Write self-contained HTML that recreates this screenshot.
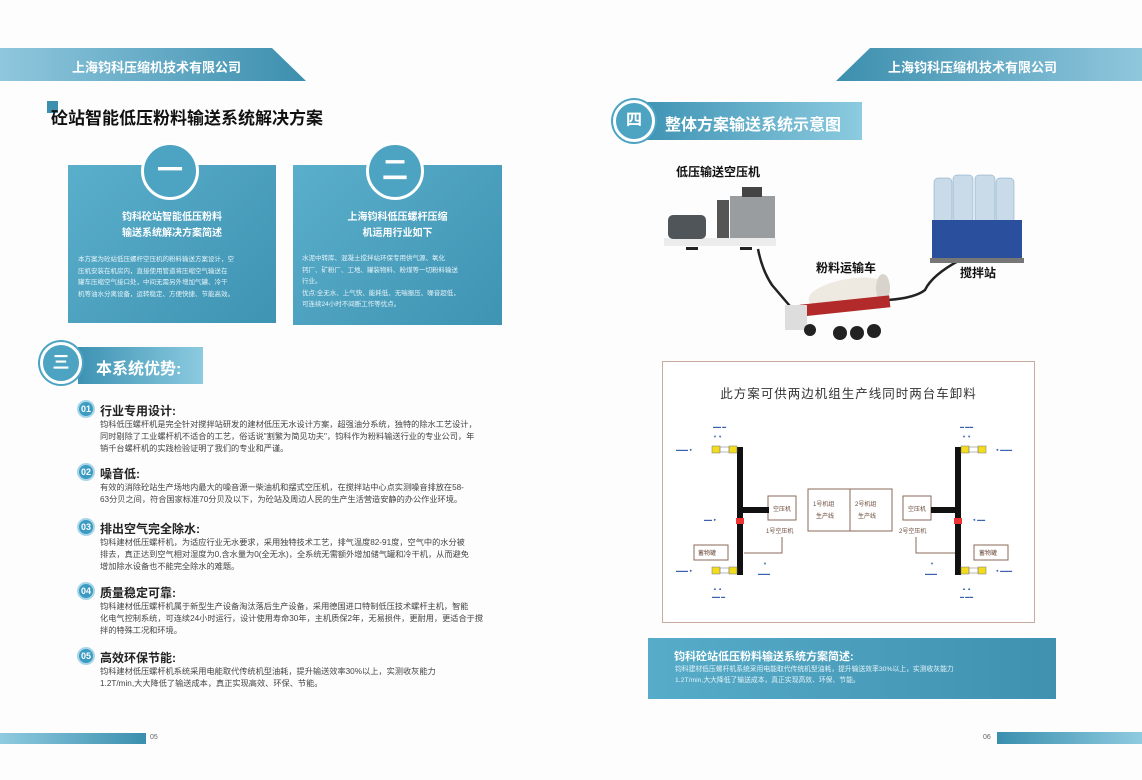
<!DOCTYPE html>
<html><head><meta charset="utf-8"><style>
*{margin:0;padding:0;box-sizing:border-box}
body{width:1142px;height:780px;background:#fdfdfd;position:relative;overflow:hidden;font-family:"Liberation Sans","Noto Sans CJK SC",sans-serif}
.a{position:absolute}
.bt{color:#444;font-size:8.2px;line-height:12px;white-space:nowrap}
.card{background:linear-gradient(135deg,#5aafcb,#3f93b3);color:#fff}
.circ{border-radius:50%;background:#4ca3c2;border:3px solid #fff;color:#fff;text-align:center;font-weight:bold}
.num{width:18px;height:18px;border-radius:50%;background:#3b9bc2;border:2px solid #a8d6e8;color:#fff;font-size:9px;text-align:center;line-height:14px;font-weight:bold}
.h{font-size:12px;font-weight:bold;color:#222}
</style></head><body>
<div class="a" style="left:0;top:48px;width:306px;height:33px;background:linear-gradient(90deg,#8fc7dd,#3c8fae);clip-path:polygon(0 0,272px 0,306px 33px,0 33px)"></div>
<div class="a" style="left:72px;top:57px;color:#fff;font-size:13px;font-weight:bold">上海钧科压缩机技术有限公司</div>
<div class="a" style="left:836px;top:48px;width:306px;height:33px;background:linear-gradient(90deg,#3c8fae,#8fc7dd);clip-path:polygon(34px 0,306px 0,306px 33px,0 33px)"></div>
<div class="a" style="left:888px;top:57px;color:#fff;font-size:13px;font-weight:bold">上海钧科压缩机技术有限公司</div>

<div class="a" style="left:47px;top:101px;width:11px;height:12px;background:#3d8fb0"></div>
<div class="a" style="left:51px;top:104px;font-size:17px;font-weight:bold;color:#111">砼站智能低压粉料输送系统解决方案</div>

<div class="a card" style="left:68px;top:165px;width:208px;height:158px"></div>
<div class="a circ" style="left:141px;top:142px;width:58px;height:58px;font-size:26px;line-height:50px">一</div>
<div class="a" style="left:68px;top:210px;width:208px;text-align:center;color:#fff;font-size:10px;font-weight:bold;line-height:16px">钧科砼站智能低压粉料<br>输送系统解决方案简述</div>
<div class="a bt" style="left:78px;top:254px;color:#e6f3f8;font-size:6.5px;line-height:11.5px">本方案为砼站低压螺杆空压机的粉料输送方案设计，空<br>压机安装在机房内，直接使用管道将压缩空气输送在<br>罐车压缩空气接口处，中间无需另外增加气罐、冷干<br>机等油水分离设备，运转稳定、方便快捷、节能高效。</div>

<div class="a card" style="left:293px;top:165px;width:209px;height:160px"></div>
<div class="a circ" style="left:366px;top:142px;width:58px;height:58px;font-size:26px;line-height:50px">二</div>
<div class="a" style="left:293px;top:210px;width:209px;text-align:center;color:#fff;font-size:10px;font-weight:bold;line-height:16px">上海钧科低压螺杆压缩<br>机运用行业如下</div>
<div class="a bt" style="left:302px;top:253px;color:#e6f3f8;font-size:6.5px;line-height:11.5px">水泥中转库、混凝土搅拌站环保专用供气源、氧化<br>钙厂、矿粉厂、工地、罐装物料、粉煤等一切粉料输送<br>行业。<br>优点:全无水、上气快、能耗低、无喘振压、噪音超低，<br>可连续24小时不间断工作等优点。</div>

<div class="a" style="left:78px;top:347px;width:125px;height:37px;background:linear-gradient(90deg,#3d92b3,#8ccbe0)"></div>
<div class="a circ" style="left:40px;top:342px;width:42px;height:42px;font-size:17px;line-height:35px;box-shadow:0 0 0 2px #4ca3c2">三</div>
<div class="a" style="left:96px;top:355px;color:#fff;font-size:16px;font-weight:bold">本系统优势:</div>

<div class="a num" style="left:77px;top:400px">01</div>
<div class="a h" style="left:100px;top:402px">行业专用设计:</div>
<div class="a bt" style="left:100px;top:419px">钧科低压螺杆机是完全针对搅拌站研发的建材低压无水设计方案，超强油分系统，独特的除水工艺设计，<br>同时剔除了工业螺杆机不适合的工艺，俗话说"割繁为简见功夫"，钧科作为粉料输送行业的专业公司，年<br>销千台螺杆机的实践检验证明了我们的专业和严谨。</div>
<div class="a num" style="left:77px;top:463px">02</div>
<div class="a h" style="left:100px;top:465px">噪音低:</div>
<div class="a bt" style="left:100px;top:482px">有效的消除砼站生产场地内最大的噪音源一柴油机和摆式空压机，在搅拌站中心点实测噪音排放在58-<br>63分贝之间，符合国家标准70分贝及以下，为砼站及周边人民的生产生活营造安静的办公作业环境。</div>
<div class="a num" style="left:77px;top:518px">03</div>
<div class="a h" style="left:100px;top:520px">排出空气完全除水:</div>
<div class="a bt" style="left:100px;top:537px">钧科建材低压螺杆机，为适应行业无水要求，采用独特技术工艺，排气温度82-91度，空气中的水分被<br>排去，真正达到空气相对湿度为0,含水量为0(全无水)，全系统无需额外增加储气罐和冷干机，从而避免<br>增加除水设备也不能完全除水的难题。</div>
<div class="a num" style="left:77px;top:582px">04</div>
<div class="a h" style="left:100px;top:584px">质量稳定可靠:</div>
<div class="a bt" style="left:100px;top:601px">钧科建材低压螺杆机属于新型生产设备淘汰落后生产设备，采用德国进口特制低压技术螺杆主机，智能<br>化电气控制系统，可连续24小时运行，设计使用寿命30年，主机质保2年，无易损件，更耐用，更适合于搅<br>拌的特殊工况和环境。</div>
<div class="a num" style="left:77px;top:647px">05</div>
<div class="a h" style="left:100px;top:649px">高效环保节能:</div>
<div class="a bt" style="left:100px;top:666px">钧科建材低压螺杆机系统采用电能取代传统机型油耗，提升输送效率30%以上，实测收灰能力<br>1.2T/min,大大降低了输送成本，真正实现高效、环保、节能。</div>

<div class="a" style="left:0;top:733px;width:146px;height:11px;background:linear-gradient(90deg,#8fcbe0,#3a8fae)"></div>
<div class="a" style="left:150px;top:734px;font-size:7px;color:#666">05</div>
<div class="a" style="left:997px;top:732px;width:145px;height:12px;background:linear-gradient(90deg,#3a8fae,#8fcbe0)"></div>
<div class="a" style="left:983px;top:734px;font-size:7px;color:#666">06</div>

<div class="a" style="left:638px;top:102px;width:224px;height:38px;background:linear-gradient(90deg,#3d92b3,#8ccbe0)"></div>
<div class="a circ" style="left:613px;top:100px;width:42px;height:42px;font-size:16px;line-height:35px;box-shadow:0 0 0 2px #4ca3c2">四</div>
<div class="a" style="left:665px;top:111px;color:#fff;font-size:16px;font-weight:bold">整体方案输送系统示意图</div>

<svg class="a" style="left:0;top:0" width="1142" height="780">
<path d="M758 249 Q762 270 772 285 L795 312" stroke="#222" stroke-width="2.5" fill="none"/>
<path d="M888 300 Q915 298 925 290 Q932 275 960 260" stroke="#222" stroke-width="2.5" fill="none"/>
<rect x="664" y="238" width="112" height="8" fill="#ececec"/>
<rect x="668" y="215" width="38" height="24" rx="5" fill="#4f5559"/>
<rect x="717" y="200" width="12" height="38" fill="#555"/>
<rect x="730" y="196" width="45" height="42" fill="#9a9da0"/>
<rect x="742" y="187" width="20" height="10" fill="#444"/>
<rect x="686" y="247" width="12" height="3" fill="#222"/><rect x="740" y="247" width="12" height="3" fill="#222"/>
<g fill="#c9dbe8" stroke="#7aa2c2" stroke-width="0.5">
<rect x="934" y="178" width="18" height="45" rx="4"/><rect x="953" y="175" width="20" height="48" rx="4"/><rect x="975" y="175" width="20" height="48" rx="4"/><rect x="996" y="178" width="18" height="45" rx="4"/></g>
<rect x="932" y="220" width="90" height="42" fill="#2a4f9c"/>
<rect x="930" y="258" width="94" height="5" fill="#777"/>
<ellipse cx="848" cy="293" rx="40" ry="14" fill="#eeeae2" transform="rotate(-10 848 293)"/>
<ellipse cx="883" cy="288" rx="7" ry="14" fill="#d8d4cc"/>
<rect x="800" y="300" width="90" height="12" fill="#b22a2a" transform="rotate(-6 845 306)"/>
<rect x="785" y="305" width="22" height="25" fill="#ddd"/>
<g fill="#222"><circle cx="810" cy="330" r="6"/><circle cx="840" cy="333" r="7"/><circle cx="857" cy="333" r="7"/><circle cx="874" cy="331" r="7"/></g>
</svg>
<div class="a" style="left:676px;top:163px;font-size:12px;font-weight:bold;color:#111">低压输送空压机</div>
<div class="a" style="left:816px;top:259px;font-size:12px;font-weight:bold;color:#111">粉料运输车</div>
<div class="a" style="left:960px;top:264px;font-size:12px;font-weight:bold;color:#111">搅拌站</div>

<div class="a" style="left:662px;top:361px;width:373px;height:262px;border:1.5px solid #c9aaa0;background:#fff"></div>
<div class="a" style="left:662px;top:383px;width:373px;text-align:center;font-size:12.5px;color:#333;letter-spacing:1px">此方案可供两边机组生产线同时两台车卸料</div>
<svg class="a" style="left:0;top:0" width="1142" height="780">
<g stroke="#8a6a5a" fill="#fff" stroke-width="1">
<rect x="768" y="496" width="28" height="24"/><rect x="808" y="489" width="84" height="42"/><line x1="850" y1="489" x2="850" y2="531"/>
<rect x="903" y="496" width="28" height="24"/>
<rect x="694" y="545" width="34" height="15"/><rect x="974" y="545" width="34" height="15"/>
<polyline points="782,537 782,553 744,553" fill="none"/><polyline points="916,537 916,553 956,553" fill="none"/>
</g>
<g fill="#111"><rect x="737" y="447" width="6" height="128"/><rect x="743" y="507" width="26" height="6"/>
<rect x="955" y="447" width="6" height="128"/><rect x="931" y="507" width="24" height="6"/></g>
<rect x="736" y="518" width="8" height="6" fill="#e33"/><rect x="954" y="518" width="8" height="6" fill="#e33"/>
<g fill="#f2dc20" stroke="#777" stroke-width="0.5">
<rect x="712" y="446" width="8" height="7"/><rect x="729" y="446" width="8" height="7"/><rect x="712" y="567" width="8" height="7"/><rect x="729" y="567" width="8" height="7"/>
<rect x="961" y="446" width="8" height="7"/><rect x="978" y="446" width="8" height="7"/><rect x="961" y="567" width="8" height="7"/><rect x="978" y="567" width="8" height="7"/></g>
<g stroke="#888" stroke-width="0.6" fill="none"><rect x="720" y="447" width="9" height="5"/><rect x="720" y="568" width="9" height="5"/><rect x="969" y="447" width="9" height="5"/><rect x="969" y="568" width="9" height="5"/></g>
<g fill="#3a62b0" font-size="4" font-family="Liberation Sans,Noto Sans CJK SC,sans-serif">
<text x="676" y="451">▬▬▬ ►</text><text x="676" y="572">▬▬▬ ►</text><text x="704" y="521">▬▬ ►</text>
<text x="995" y="451">◄ ▬▬▬</text><text x="995" y="572">◄ ▬▬▬</text><text x="972" y="521">◄ ▬▬</text>
<text x="713" y="428">▬▬ ▬</text><text x="713" y="438">▼ ▼</text><text x="960" y="428">▬ ▬▬</text><text x="962" y="438">▼ ▼</text>
<text x="713" y="590">▲ ▲</text><text x="712" y="598">▬▬ ▬</text><text x="962" y="590">▲ ▲</text><text x="960" y="598">▬ ▬▬</text>
<text x="763" y="565">▼</text><text x="758" y="575">▬▬▬</text><text x="930" y="565">▼</text><text x="925" y="575">▬▬▬</text>
</g>
<g fill="#6a4a3a" font-size="6" font-family="Liberation Sans,Noto Sans CJK SC,sans-serif">
<text x="773" y="511">空压机</text><text x="908" y="511">空压机</text>
<text x="813" y="506">1号机组</text><text x="816" y="518">生产线</text><text x="855" y="506">2号机组</text><text x="858" y="518">生产线</text>
<text x="766" y="533">1号空压机</text><text x="899" y="533">2号空压机</text>
<text x="698" y="555">蓄物罐</text><text x="979" y="555">蓄物罐</text></g>
</svg>

<div class="a" style="left:648px;top:638px;width:408px;height:61px;background:linear-gradient(90deg,#56acc9,#3f91b0)"></div>
<div class="a" style="left:674px;top:648px;color:#fff;font-size:11px;font-weight:bold">钧科砼站低压粉料输送系统方案简述:</div>
<div class="a bt" style="left:675px;top:664px;color:#e3f2f8;font-size:6.8px;line-height:11px">钧科建材低压螺杆机系统采用电能取代传统机型油耗，提升输送效率30%以上，实测收灰能力<br>1.2T/min,大大降低了输送成本，真正实现高效、环保、节能。</div>
</body></html>
